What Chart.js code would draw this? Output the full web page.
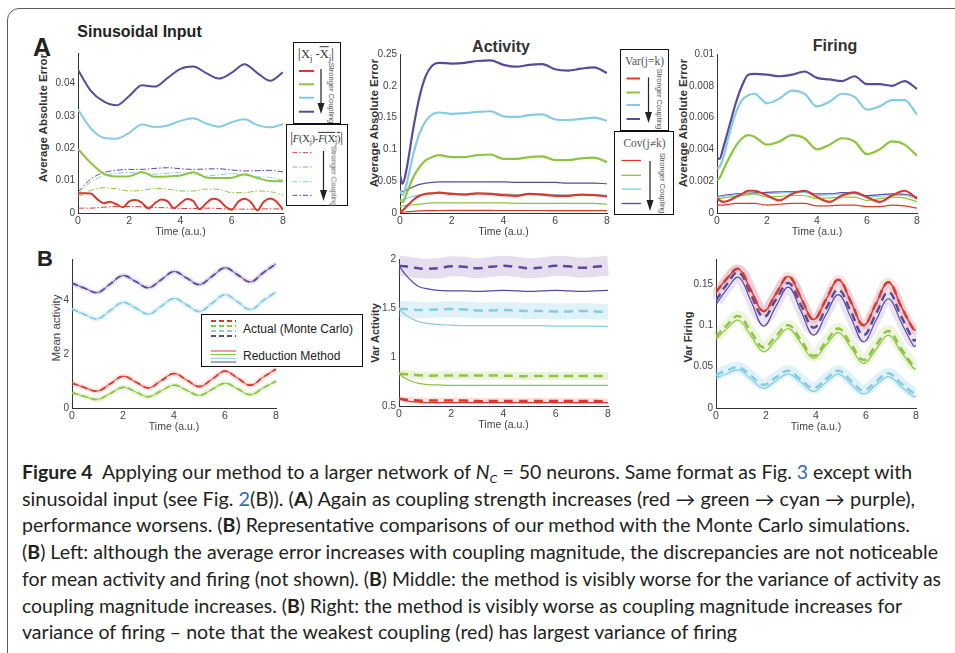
<!DOCTYPE html>
<html>
<script src="https://cdn.jsdelivr.net/npm/chart.js"></script>
<style type="text/css">
  body { margin: 0; background: #fff; }
  #page { position: relative; width: 955px; height: 653px; overflow: hidden; font-family: "Liberation Sans", Arial, sans-serif; color: #222; }
  .frame { position: absolute; left: 7px; top: 8px; width: 1000px; height: 700px; border: 1.4px solid #5a5a5a; border-radius: 12px; }
  canvas { position: absolute; }
  .txt { position: absolute; white-space: nowrap; transform: translate(-50%, -50%); }
  .ylab { position: absolute; white-space: nowrap; transform: translate(-50%, -50%) rotate(-90deg); }
  .box { position: absolute; border: 1.3px solid #111; background: #fff; box-sizing: border-box; z-index: 2; }
  .box svg { position: absolute; left: 0; top: 0; }
  .btitle { position: absolute; white-space: nowrap; transform: translate(-50%, -50%); font-family: "Liberation Serif", "DejaVu Serif", serif; color: #333; }
  .rot { position: absolute; white-space: nowrap; transform: translate(-50%, -50%) rotate(90deg); font-size: 7.5px; color: #555; }
  .ov { text-decoration: overline; }
  .sub { font-size: 70%; vertical-align: -0.3em; }
  .cap { position: absolute; left: 22px; top: 459px; font-family: Lato, "Open Sans", sans-serif; font-size: 18.5px; line-height: 26.7px; color: #231f20; }
  .cap div { white-space: nowrap; transform-origin: 0 50%; display: inline-block; }
  .cs { position: relative; top: 0.3em; font-size: 65%; line-height: 0; }
  .lk { color: #2f6db5; }
</style>
<body>
<div id="page">
  <div class="frame"></div>

  <div class="txt" style="left:42px;top:46.5px;font-size:25px;font-weight:bold;">A</div>
  <div class="txt" style="left:45px;top:259px;font-size:22px;font-weight:bold;">B</div>
  <div class="txt" style="left:139.5px;top:31.5px;font-size:16px;font-weight:bold;">Sinusoidal Input</div>
  <div class="txt" style="left:501px;top:46.5px;font-size:16px;font-weight:bold;color:#333;">Activity</div>
  <div class="txt" style="left:835px;top:46px;font-size:16px;font-weight:bold;color:#333;">Firing</div>

  <div class="ylab" style="left:43px;top:117.5px;font-size:11.5px;font-weight:bold;color:#333;">Average Absolute Error</div>
  <div class="ylab" style="left:373.5px;top:122.5px;font-size:11.5px;font-weight:bold;color:#333;">Average Absolute Error</div>
  <div class="ylab" style="left:683px;top:122.5px;font-size:11.5px;font-weight:bold;color:#333;">Average Absolute Error</div>
  <div class="ylab" style="left:56px;top:327.5px;font-size:11.5px;color:#444;">Mean activity</div>
  <div class="ylab" style="left:375px;top:333px;font-size:11px;font-weight:bold;color:#333;">Var Activity</div>
  <div class="ylab" style="left:688px;top:336.5px;font-size:11px;font-weight:bold;color:#333;">Var Firing</div>

  <!-- legends, panel A -->
  <div class="box" style="left:293px;top:42px;width:48px;height:82px;">
    <div class="btitle" style="left:22px;top:10.5px;font-size:12.5px;"><span style="font-size:15px">|</span>X<span class="sub">j</span> -<span class="ov">X</span><span class="sub">j</span><span style="font-size:15px">|</span></div>
    <svg id="lg1" width="48" height="82"></svg>
    <div class="rot" style="left:37px;top:50px;">Stronger Coupling</div>
  </div>
  <div class="box" style="left:286px;top:124px;width:62px;height:82px;">
    <div class="btitle" style="left:29.5px;top:12.5px;font-size:10.5px;letter-spacing:-0.2px;"><span style="font-size:14px">|</span><i>F</i>(X<span class="sub">j</span>)-<span class="ov"><i>F</i>(X<span class="sub">j</span>)</span><span style="font-size:14px">|</span></div>
    <svg id="lg2" width="62" height="82"></svg>
    <div class="rot" style="left:47px;top:51px;">Stronger Coupling</div>
  </div>
  <div class="box" style="left:620px;top:49px;width:49px;height:82px;">
    <div class="btitle" style="left:23.5px;top:10.5px;font-size:11.5px;color:#555;">Var(j=k)</div>
    <svg id="lg3" width="49" height="82"></svg>
    <div class="rot" style="left:38px;top:49px;">Stronger Coupling</div>
  </div>
  <div class="box" style="left:614px;top:130.5px;width:60px;height:84px;">
    <div class="btitle" style="left:29.5px;top:11px;font-size:11.5px;color:#555;">Cov(j≠k)</div>
    <svg id="lg4" width="60" height="84"></svg>
    <div class="rot" style="left:46.5px;top:51px;">Stronger Coupling</div>
  </div>
  <!-- legend, panel B left -->
  <div class="box" style="left:201px;top:314px;width:162px;height:53px;border-width:1px;">
    <svg id="lg5" width="162" height="53"></svg>
    <div style="position:absolute;left:41px;top:6px;font-size:12px;line-height:16px;white-space:nowrap;">Actual (Monte Carlo)</div>
    <div style="position:absolute;left:41px;top:33px;font-size:12px;line-height:16px;white-space:nowrap;">Reduction Method</div>
  </div>

  <div class="cap" id="cap">
    <div><b>Figure 4</b>&nbsp; Applying our method to a larger network of <i>N</i><span class="cs"><i>C</i></span> = 50 neurons. Same format as Fig. <span class="lk">3</span> except with</div><br>
    <div>sinusoidal input (see Fig. <span class="lk">2</span>(B)). (<b>A</b>) Again as coupling strength increases (red → green → cyan → purple),</div><br>
    <div>performance worsens. (<b>B</b>) Representative comparisons of our method with the Monte Carlo simulations.</div><br>
    <div>(<b>B</b>) Left: although the average error increases with coupling magnitude, the discrepancies are not noticeable</div><br>
    <div>for mean activity and firing (not shown). (<b>B</b>) Middle: the method is visibly worse for the variance of activity as</div><br>
    <div>coupling magnitude increases. (<b>B</b>) Right: the method is visibly worse as coupling magnitude increases for</div><br>
    <div>variance of firing – note that the weakest coupling (red) has largest variance of firing</div>
  </div>
</div>

<script>
  // time grids
  const tQ = [0,0.25,0.5,0.75,1,1.25,1.5,1.75,2,2.25,2.5,2.75,3,3.25,3.5,3.75,4,4.25,4.5,4.75,5,5.25,5.5,5.75,6,6.25,6.5,6.75,7,7.25,7.5,7.75,8];
  const tH = [0,0.5,1,1.5,2,2.5,3,3.5,4,4.5,5,5.5,6,6.5,7,7.5,8];
  const tR = [0,0.1,0.25,0.5,0.75,1,1.25,1.5,2,2.5,3,3.5,4,4.5,5,5.5,6,6.5,7,7.5,8];
  const tV = [0,0.25,0.5,0.75,1,1.5,2,2.5,3,3.5,4,4.5,5,5.5,6,6.5,7,7.5,8];
  const tF = [0,0.4,0.9,1.4,1.9,2.4,2.9,3.4,3.9,4.4,4.9,5.4,5.9,6.4,6.9,7.4,7.9,8];

  // tick labels
  const xTicks = [0, 2, 4, 6, 8];
  const a1Ticks = [0, 0.01, 0.02, 0.03, 0.04];
  const a2Ticks = [0, 0.05, 0.1, 0.15, 0.2, 0.25];
  const a3Ticks = [0, 0.002, 0.004, 0.006, 0.008, 0.01];
  const b1Ticks = [0, 2, 4];
  const b2Ticks = [0.5, 1, 1.5, 2];
  const b3Ticks = [0, 0.05, 0.1, 0.15];

  // A left: |Xj - mean Xj| (solid) and |F(Xj) - mean F(Xj)| (dash-dot)
  const a1XRed = [0.0061,0.0061,0.0060,0.0043,0.0030,0.0035,0.0027,0.0018,0.0036,0.0040,0.0031,0.0014,0.0030,0.0042,0.0036,0.0015,0.0030,0.0043,0.0037,0.0012,0.0030,0.0044,0.0040,0.0020,0.0010,0.0035,0.0044,0.0033,0.0008,0.0035,0.0045,0.0035,0.0010];
  const a1XGreen = [0.0198,0.0155,0.0122,0.0113,0.0114,0.0127,0.0112,0.0113,0.0116,0.0126,0.0110,0.0108,0.0109,0.0120,0.0108,0.0099,0.0098];
  const a1XCyan = [0.0320,0.0262,0.0233,0.0230,0.0248,0.0274,0.0266,0.0271,0.0285,0.0293,0.0277,0.0267,0.0281,0.0290,0.0272,0.0265,0.0275];
  const a1XPurple = [0.0443,0.0378,0.0345,0.0333,0.0362,0.0395,0.0391,0.0418,0.0446,0.0453,0.0433,0.0416,0.0434,0.0460,0.0433,0.0409,0.0435];
  const a1FRed = [0.0015,0.0015,0.0018,0.0020,0.0020,0.0019,0.0017,0.0016,0.0014,0.0014,0.0015,0.0014,0.0012,0.0012,0.0012,0.0013,0.0012];
  const a1FGreen = [0.0050,0.0070,0.0078,0.0075,0.0068,0.0070,0.0076,0.0074,0.0068,0.0068,0.0074,0.0073,0.0063,0.0063,0.0068,0.0066,0.0055];
  const a1FCyan = [0.0060,0.0095,0.0115,0.0123,0.0125,0.0124,0.0120,0.0123,0.0125,0.0120,0.0115,0.0118,0.0122,0.0117,0.0112,0.0110,0.0101];
  const a1FPurple = [0.0065,0.0105,0.0125,0.0132,0.0135,0.0135,0.0138,0.0140,0.0137,0.0135,0.0136,0.0137,0.0133,0.0130,0.0131,0.0132,0.0127];

  // A middle: activity, Var (thick) and Cov (thin)
  const a2VarRed = [0.002,0.004,0.010,0.020,0.027,0.030,0.031,0.032,0.030,0.029,0.031,0.030,0.028,0.027,0.030,0.029,0.027,0.027,0.029,0.028,0.026];
  const a2VarGreen = [0.020,0.017,0.030,0.055,0.072,0.083,0.088,0.091,0.088,0.088,0.091,0.092,0.085,0.085,0.088,0.089,0.083,0.083,0.086,0.087,0.080];
  const a2VarCyan = [0.035,0.028,0.045,0.090,0.125,0.145,0.155,0.158,0.156,0.157,0.159,0.160,0.152,0.151,0.154,0.155,0.147,0.146,0.148,0.150,0.145];
  const a2VarPurple = [0.060,0.046,0.068,0.130,0.182,0.216,0.232,0.236,0.235,0.236,0.239,0.240,0.233,0.230,0.233,0.234,0.226,0.224,0.227,0.229,0.220];
  const a2CovRed = [0.0010,0.0012,0.0018,0.0026,0.0032,0.0036,0.0038,0.0039,0.0040,0.0040,0.0040,0.0040,0.0039,0.0039,0.0039,0.0039,0.0038,0.0038,0.0038,0.0038,0.0037];
  const a2CovGreen = [0.010,0.011,0.012,0.013,0.014,0.015,0.016,0.016,0.016,0.016,0.016,0.016,0.016,0.015,0.015,0.015,0.015,0.015,0.015,0.015,0.014];
  const a2CovCyan = [0.020,0.021,0.023,0.026,0.028,0.030,0.031,0.031,0.031,0.030,0.031,0.031,0.030,0.029,0.030,0.030,0.029,0.028,0.029,0.029,0.028];
  const a2CovPurple = [0.035,0.034,0.036,0.041,0.045,0.047,0.048,0.049,0.049,0.049,0.049,0.049,0.049,0.048,0.048,0.048,0.048,0.047,0.047,0.047,0.046];

  // A right: firing, Var (thick) and Cov (thin)
  const a3VarRed = [0.0009,0.0008,0.0007,0.0008,0.0010,0.0012,0.0014,0.0014,0.0011,0.0008,0.0012,0.0014,0.0010,0.0007,0.0011,0.0013,0.0010,0.0007,0.0011,0.0014,0.0009];
  const a3VarGreen = [0.0021,0.0022,0.0027,0.0035,0.0042,0.0047,0.0049,0.0048,0.0043,0.0045,0.0049,0.0047,0.0040,0.0043,0.0047,0.0045,0.0037,0.0040,0.0045,0.0043,0.0036];
  const a3VarCyan = [0.0028,0.0029,0.0035,0.0050,0.0063,0.0071,0.0074,0.0075,0.0069,0.0072,0.0077,0.0075,0.0067,0.0070,0.0075,0.0073,0.0065,0.0067,0.0071,0.0071,0.0062];
  const a3VarPurple = [0.0035,0.0034,0.0041,0.0055,0.0069,0.0080,0.0087,0.00875,0.0087,0.0086,0.0087,0.0089,0.0085,0.0084,0.0083,0.0086,0.0081,0.0081,0.0080,0.0083,0.0078];
  const a3CovRed = [0.0005,0.0005,0.0005,0.00055,0.0006,0.0006,0.0006,0.0006,0.0005,0.00055,0.0006,0.0006,0.00045,0.00045,0.0005,0.0005,0.0004,0.0004,0.0005,0.00045,0.0003];
  const a3CovGreen = [0.0009,0.0009,0.00095,0.0010,0.00105,0.0011,0.00115,0.0012,0.0010,0.00105,0.0011,0.0011,0.0009,0.00095,0.0010,0.0010,0.0008,0.0009,0.0010,0.00095,0.0007];
  const a3CovCyan = [0.0010,0.0010,0.00105,0.0011,0.00115,0.0012,0.0012,0.0012,0.0012,0.00125,0.0013,0.0013,0.0011,0.00115,0.0012,0.0012,0.0010,0.00105,0.0011,0.0011,0.0009];
  const a3CovPurple = [0.00105,0.00105,0.0011,0.00115,0.0012,0.00122,0.00125,0.00127,0.0013,0.00133,0.00135,0.00135,0.0012,0.0012,0.00128,0.00125,0.0011,0.00115,0.0012,0.00118,0.0010];

  // B left: mean activity
  const b1Red = [0.93,0.76,0.63,0.90,1.18,0.97,0.75,1.02,1.28,1.04,0.80,1.08,1.37,1.11,0.85,1.15,1.45];
  const b1Green = [0.57,0.43,0.32,0.54,0.77,0.60,0.42,0.64,0.85,0.66,0.47,0.70,0.92,0.71,0.50,0.75,1.00];
  const b1Cyan = [3.69,3.48,3.32,3.63,3.93,3.72,3.50,3.79,4.08,3.84,3.60,3.91,4.22,3.95,3.67,4.00,4.32];
  const b1Purple = [4.65,4.46,4.30,4.62,4.93,4.71,4.48,4.78,5.08,4.84,4.60,4.91,5.22,4.96,4.70,5.04,5.37];

  // B middle: var activity, Monte Carlo (dashed) vs reduction (solid)
  const b2RedMC = [0.575,0.565,0.56,0.555,0.555,0.555,0.555,0.555,0.55,0.55,0.55,0.55,0.55,0.55,0.55,0.55,0.55,0.55,0.545];
  const b2RedRM = [0.575,0.555,0.545,0.54,0.535,0.535,0.535,0.535,0.535,0.535,0.535,0.535,0.535,0.535,0.535,0.535,0.535,0.535,0.535];
  const b2GreenMC = [0.83,0.825,0.82,0.815,0.81,0.81,0.81,0.81,0.81,0.81,0.81,0.805,0.805,0.805,0.805,0.805,0.805,0.805,0.805];
  const b2GreenRM = [0.83,0.78,0.75,0.73,0.72,0.715,0.71,0.71,0.71,0.71,0.71,0.71,0.71,0.71,0.71,0.71,0.71,0.71,0.71];
  const b2CyanMC = [1.49,1.49,1.485,1.48,1.48,1.485,1.49,1.485,1.475,1.475,1.48,1.475,1.47,1.47,1.465,1.465,1.47,1.465,1.46];
  const b2CyanRM = [1.49,1.43,1.39,1.36,1.345,1.33,1.325,1.32,1.32,1.32,1.32,1.32,1.32,1.32,1.315,1.315,1.315,1.315,1.31];
  const b2PurpleMC = [1.93,1.925,1.915,1.905,1.90,1.905,1.925,1.92,1.905,1.92,1.93,1.92,1.905,1.915,1.93,1.925,1.91,1.92,1.93];
  const b2PurpleRM = [1.93,1.84,1.77,1.72,1.70,1.68,1.675,1.675,1.67,1.675,1.68,1.675,1.67,1.675,1.68,1.675,1.67,1.675,1.68];

  // B right: var firing
  const b3Red = [0.140,0.155,0.168,0.142,0.117,0.138,0.159,0.133,0.107,0.131,0.155,0.128,0.100,0.126,0.152,0.123,0.095,0.094];
  const b3GreenMC = [0.086,0.099,0.111,0.092,0.073,0.087,0.100,0.082,0.063,0.080,0.096,0.077,0.058,0.076,0.093,0.072,0.051,0.051];
  const b3GreenRM = [0.083,0.095,0.106,0.087,0.068,0.082,0.096,0.078,0.060,0.076,0.091,0.073,0.054,0.071,0.088,0.068,0.048,0.047];
  const b3CyanMC = [0.040,0.045,0.049,0.039,0.028,0.037,0.045,0.034,0.024,0.035,0.045,0.033,0.021,0.032,0.042,0.030,0.018,0.018];
  const b3CyanRM = [0.036,0.041,0.046,0.035,0.024,0.033,0.041,0.031,0.020,0.031,0.041,0.029,0.017,0.028,0.038,0.026,0.014,0.014];
  const b3PurpleMC = [0.130,0.148,0.164,0.137,0.110,0.131,0.151,0.124,0.097,0.120,0.143,0.116,0.088,0.114,0.140,0.111,0.082,0.082];
  const b3PurpleRM = [0.125,0.142,0.158,0.129,0.099,0.123,0.146,0.117,0.088,0.113,0.137,0.109,0.080,0.106,0.132,0.104,0.075,0.075];

  const RED = '#d83a2e', GREEN = '#8dc540', CYAN = '#85cbe4', PURPLE = '#5a4a9c';
  const FONT = '"Liberation Sans", Arial, sans-serif';
  const YW = 44, XH = 25, PT = 8, PR = 10;

  function series(xs, ys, color, width, opts) {
    return Object.assign({
      data: xs.map((x, i) => ({ x: x, y: ys[i] })),
      borderColor: color, borderWidth: width, pointRadius: 0, fill: false,
      cubicInterpolationMode: 'monotone', borderJoinStyle: 'round'
    }, opts || {});
  }
  const wave = { cubicInterpolationMode: 'default', tension: 0.4 };
  function dashed(o) { return Object.assign({ borderDash: [9, 6], order: 1 }, wave, o || {}); }
  function band(o) { return Object.assign({ order: 3, clip: 3, borderCapStyle: 'butt' }, wave, o || {}); }

  function fmt(v) { return String(parseFloat(Number(v).toFixed(4))); }

  function panel(rect, yMin, yMax, yTicks, datasets) {
    const c = document.createElement('canvas');
    c.width = rect.r - rect.l + YW + PR;
    c.height = rect.b - rect.t + PT + XH;
    c.style.left = (rect.l - YW) + 'px';
    c.style.top = (rect.t - PT) + 'px';
    document.getElementById('page').appendChild(c);
    const tickFont = { family: FONT, size: 10 };
    return new Chart(c, {
      type: 'line',
      data: { datasets: datasets },
      options: {
        responsive: false,
        animation: false,
        events: [],
        layout: { padding: { top: PT, right: PR, left: 0, bottom: 0 } },
        plugins: { legend: { display: false }, tooltip: { enabled: false } },
        scales: {
          x: {
            type: 'linear', min: 0, max: 8,
            afterBuildTicks: s => { s.ticks = xTicks.map(v => ({ value: v })); },
            afterFit: s => { s.height = XH; },
            grid: { display: false, drawTicks: false, tickLength: 0 },
            border: { display: true, color: '#333', width: 1 },
            ticks: { font: { family: FONT, size: 10.5 }, color: '#444', padding: 2, autoSkip: false, maxRotation: 0, callback: fmt },
            title: { display: true, text: 'Time (a.u.)', font: { family: FONT, size: 10.5 }, color: '#444', padding: 0 }
          },
          y: {
            type: 'linear', min: yMin, max: yMax,
            afterBuildTicks: s => { s.ticks = yTicks.map(v => ({ value: v })); },
            afterFit: s => { s.width = YW; },
            grid: { display: false, drawTicks: false, tickLength: 0 },
            border: { display: true, color: '#333', width: 1 },
            ticks: { font: tickFont, color: '#444', padding: 3, autoSkip: false, callback: fmt }
          }
        }
      }
    });
  }

  // A left
  panel({ l: 78, t: 52, r: 283, b: 213 }, 0, 0.0495, a1Ticks, [
    series(tQ, a1XRed, RED, 2, { order: 1 }),
    series(tH, a1XGreen, GREEN, 2, { order: 1 }),
    series(tH, a1XCyan, CYAN, 2, { order: 1 }),
    series(tH, a1XPurple, PURPLE, 2, { order: 1 }),
    series(tH, a1FRed, RED, 1, { borderDash: [6, 2, 1.5, 2], order: 2 }),
    series(tH, a1FGreen, GREEN, 1, { borderDash: [6, 2, 1.5, 2], order: 2 }),
    series(tH, a1FCyan, CYAN, 1, { borderDash: [6, 2, 1.5, 2], order: 2 }),
    series(tH, a1FPurple, PURPLE, 1, { borderDash: [6, 2, 1.5, 2], order: 2 })
  ]);

  // A middle
  panel({ l: 400, t: 53, r: 607, b: 213 }, 0, 0.25, a2Ticks, [
    series(tR, a2VarRed, RED, 2.2, { order: 1 }),
    series(tR, a2VarGreen, GREEN, 2.2, { order: 1 }),
    series(tR, a2VarCyan, CYAN, 2.2, { order: 1 }),
    series(tR, a2VarPurple, PURPLE, 2.2, { order: 1 }),
    series(tR, a2CovRed, RED, 1.2, { order: 2 }),
    series(tR, a2CovGreen, GREEN, 1.2, { order: 2 }),
    series(tR, a2CovCyan, CYAN, 1.2, { order: 2 }),
    series(tR, a2CovPurple, PURPLE, 1.2, { order: 2 })
  ]);

  // A right
  panel({ l: 717, t: 53, r: 917, b: 213 }, 0, 0.01, a3Ticks, [
    series(tR, a3VarRed, RED, 2.2, { order: 1 }),
    series(tR, a3VarGreen, GREEN, 2.2, { order: 1 }),
    series(tR, a3VarCyan, CYAN, 2.2, { order: 1 }),
    series(tR, a3VarPurple, PURPLE, 2.2, { order: 1 }),
    series(tR, a3CovRed, RED, 1.2, { order: 2 }),
    series(tR, a3CovGreen, GREEN, 1.2, { order: 2 }),
    series(tR, a3CovCyan, CYAN, 1.2, { order: 2 }),
    series(tR, a3CovPurple, PURPLE, 1.2, { order: 2 })
  ]);

  // B left
  const b1Sets = [];
  [[b1Red, RED, 'rgba(216,58,46,0.16)'], [b1Green, GREEN, 'rgba(141,197,64,0.18)'],
   [b1Cyan, CYAN, 'rgba(133,203,228,0.22)'], [b1Purple, PURPLE, 'rgba(150,120,190,0.22)']].forEach(s => {
    b1Sets.push(series(tH, s[0], s[2], 5, band()));
    b1Sets.push(series(tH, s[0], s[1], 1, Object.assign({ order: 2 }, wave)));
    b1Sets.push(series(tH, s[0], s[1], 1.8, dashed({ borderDash: [6, 4] })));
  });
  panel({ l: 72, t: 258, r: 276, b: 408 }, 0, 5.55, b1Ticks, b1Sets);

  // B middle
  panel({ l: 399, t: 258, r: 608, b: 406 }, 0.5, 2, b2Ticks, [
    series(tV, b2RedMC, 'rgba(226,90,80,0.18)', 6, band()),
    series(tV, b2GreenMC, 'rgba(165,205,90,0.22)', 8, band()),
    series(tV, b2CyanMC, 'rgba(133,203,228,0.26)', 16, band()),
    series(tV, b2PurpleMC, 'rgba(150,115,190,0.24)', 20, band()),
    series(tV, b2RedRM, RED, 1.2, Object.assign({ order: 2 }, wave)),
    series(tV, b2GreenRM, GREEN, 1.2, Object.assign({ order: 2 }, wave)),
    series(tV, b2CyanRM, CYAN, 1.2, Object.assign({ order: 2 }, wave)),
    series(tV, b2PurpleRM, PURPLE, 1.2, Object.assign({ order: 2 }, wave)),
    series(tV, b2RedMC, RED, 2.5, dashed()),
    series(tV, b2GreenMC, GREEN, 2.5, dashed()),
    series(tV, b2CyanMC, CYAN, 2.5, dashed()),
    series(tV, b2PurpleMC, PURPLE, 2.5, dashed())
  ]);

  // B right
  panel({ l: 716, t: 258, r: 916, b: 408 }, 0, 0.18, b3Ticks, [
    series(tF, b3Red, 'rgba(226,90,80,0.16)', 9, band()),
    series(tF, b3GreenMC, 'rgba(165,205,90,0.2)', 11, band()),
    series(tF, b3CyanMC, 'rgba(133,203,228,0.26)', 11, band()),
    series(tF, b3PurpleMC, 'rgba(150,115,190,0.2)', 15, band()),
    series(tF, b3Red, RED, 1.4, Object.assign({ order: 2 }, wave)),
    series(tF, b3GreenRM, GREEN, 1.2, Object.assign({ order: 2 }, wave)),
    series(tF, b3CyanRM, CYAN, 1.2, Object.assign({ order: 2 }, wave)),
    series(tF, b3PurpleRM, PURPLE, 1.2, Object.assign({ order: 2 }, wave)),
    series(tF, b3Red, RED, 2.5, dashed({ borderDash: [8, 5] })),
    series(tF, b3GreenMC, GREEN, 2.5, dashed({ borderDash: [8, 5] })),
    series(tF, b3CyanMC, CYAN, 2.5, dashed({ borderDash: [8, 5] })),
    series(tF, b3PurpleMC, PURPLE, 2.5, dashed({ borderDash: [8, 5] }))
  ]);

  // legend swatches and arrows
  const NS = 'http://www.w3.org/2000/svg';
  function el(svg, name, attrs) {
    const e = document.createElementNS(NS, name);
    for (const k in attrs) e.setAttribute(k, attrs[k]);
    document.getElementById(svg).appendChild(e);
  }
  function swatches(svg, x1, x2, ys, width, dash) {
    [RED, GREEN, CYAN, PURPLE].forEach((c, i) => {
      el(svg, 'line', { x1: x1, x2: x2, y1: ys[i], y2: ys[i], stroke: c, 'stroke-width': width, 'stroke-dasharray': dash || 'none' });
    });
  }
  function arrow(svg, x, y1, y2) {
    el(svg, 'line', { x1: x, x2: x, y1: y1, y2: y2 - 9, stroke: '#222', 'stroke-width': 1.2 });
    el(svg, 'polygon', { points: (x - 3.5) + ',' + (y2 - 11) + ' ' + (x + 3.5) + ',' + (y2 - 11) + ' ' + x + ',' + y2, fill: '#222' });
  }
  swatches('lg1', 5, 20, [28, 41.3, 54.7, 68.7], 2);
  arrow('lg1', 27, 26, 71);
  swatches('lg2', 5.5, 25.5, [27.7, 42, 56.7, 70.3], 1, '5 2 1.5 2');
  arrow('lg2', 36.5, 26, 76);
  swatches('lg3', 5.5, 19, [28.5, 42.5, 55, 69], 2);
  arrow('lg3', 27.5, 27.5, 73);
  swatches('lg4', 6.5, 26, [28.5, 43.3, 57, 71.5], 1.3);
  arrow('lg4', 35, 29, 79);
  swatches('lg5', 9, 34, [6, 11, 16, 21], 1.8, '5 3');
  swatches('lg5', 9, 34, [36, 39.5, 43.3, 47], 1);

  // caption: stretch each line to its width in the figure
  const capEnds = [912, 915, 910, 938, 941, 902, 737];
  document.fonts.ready.then(() => {
    document.querySelectorAll('#cap > div').forEach((d, i) => {
      const w = d.getBoundingClientRect().width;
      d.style.transform = 'scaleX(' + ((capEnds[i] - 22) / w).toFixed(4) + ')';
    });
  });
</script>
</body>
</html>
